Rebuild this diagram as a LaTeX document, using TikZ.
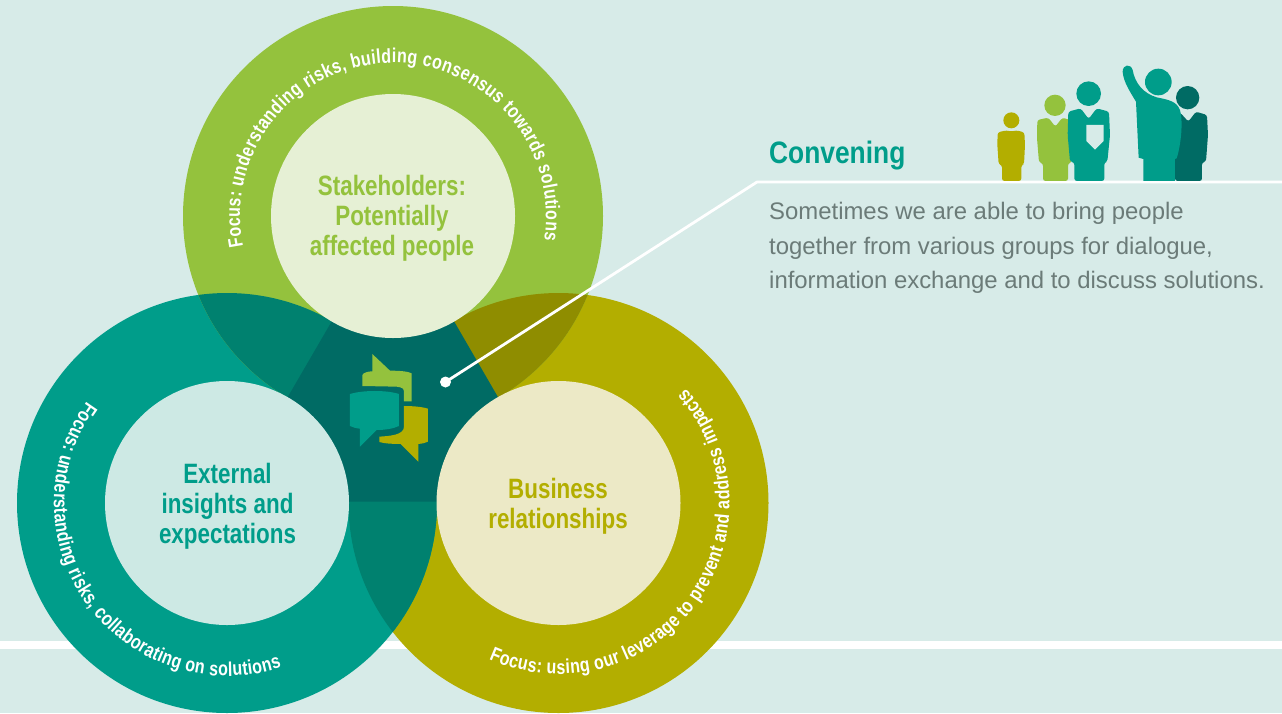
\documentclass[tikz,border=0pt]{standalone}
\usepackage{fontspec}
\setmainfont{Liberation Sans}
\newfontfamily\narrowbold[FakeStretch=0.8]{Liberation Sans Bold}
\newfontfamily\headbold[FakeStretch=0.85]{Liberation Sans Bold}
\usetikzlibrary{decorations.text}
\definecolor{bgc}{HTML}{D7EBE8}
\definecolor{greenc}{HTML}{94C23D}
\definecolor{tealc}{HTML}{009D8A}
\definecolor{olivec}{HTML}{B3AE00}
\definecolor{darkc}{HTML}{006B64}
\definecolor{tealdark}{HTML}{00816F}
\definecolor{olivedark}{HTML}{8F8D00}
\definecolor{greenin}{HTML}{E6F0D5}
\definecolor{tealin}{HTML}{CDE9E4}
\definecolor{olivein}{HTML}{ECE9C6}
\definecolor{bodyc}{HTML}{6B7B78}
\tikzset{
  title/.style={font=\narrowbold\fontsize{28}{30}\selectfont,align=center,inner sep=0pt},
  body/.style={font=\fontsize{23.9}{34.5}\selectfont,text=bodyc,anchor=base west,inner sep=0pt},
  person/.style={rounded corners=2.5pt}
}
\newcommand{\ringtext}[5]{\path[decorate,decoration={text along path,text align={fit to path},text color=white,text={|\narrowbold\fontsize{20}{20}\selectfont|#5}}] (#1) ++(#3:#2) arc[start angle=#3,end angle=#4,radius=#2];}
\begin{document}
\begin{tikzpicture}[x=1pt,y=1pt]
\useasboundingbox (0,0) rectangle (1282,-713);
\fill[bgc] (0,0) rectangle (1282,-713);
\fill[white] (0,-641) rectangle (1282,-649);
\coordinate (G) at (393,-216);
\coordinate (T) at (227,-503);
\coordinate (O) at (558.5,-503);
\fill[olivec] (O) circle[radius=210];
\fill[tealc] (T) circle[radius=210];
\fill[greenc] (G) circle[radius=210];
\begin{scope}
  \clip (T) circle[radius=210];
  \fill[tealdark] (G) circle[radius=210];
  \fill[tealdark] (O) circle[radius=210];
\end{scope}
\begin{scope}
  \clip (G) circle[radius=210];
  \fill[olivedark] (O) circle[radius=210];
\end{scope}
\fill[darkc] (G) -- (227,-501.5) -- (558.5,-501.5) -- cycle;
\fill[greenin] (G) circle[radius=122];
\fill[tealin] (T) circle[radius=122];
\fill[olivein] (O) circle[radius=122];
\node[title,text=greenc] (gt) at (392,-218.5) {Stakeholders:\\Potentially\\affected people};
\node[title,text=tealc] (tt) at (227.5,-506) {External\\insights and\\expectations};
\node[title,text=olivec] (ot) at (558,-506) {Business\\relationships};
\ringtext{G}{153}{191.6}{-9}{Focus: understanding risks, building consensus towards solutions}
\ringtext{T}{173}{144}{288.4}{Focus: understanding risks, collaborating on solutions}
\ringtext{O}{171}{246}{402}{Focus: using our leverage to prevent and address impacts}
% speech bubbles
\begin{scope}[shift={(280,-280)},x=0.3333pt,y=0.3333pt]
  \fill[greenc] (277,-222) -- (330,-272) .. controls (365,-272) and (385,-275) .. (395,-280) -- (395,-364) -- (372,-364) -- (372,-335) .. controls (372,-325) and (365,-322) .. (350,-320) -- (247,-318) -- (247,-285) .. controls (250,-278) and (265,-274) .. (277,-274) -- cycle;
  \fill[tealc] (210,-342) .. controls (250,-330) and (320,-330) .. (357,-342) -- (357,-438) .. controls (340,-446) and (315,-450) .. (290,-450) -- (240,-500) -- (240,-446) .. controls (228,-445) and (218,-442) .. (210,-438) -- cycle;
  \fill[olivec] (372,-378) .. controls (395,-378) and (425,-380) .. (444,-386) -- (444,-485) .. controls (435,-490) and (425,-491) .. (415,-492) -- (415,-545) -- (362,-492) .. controls (335,-492) and (310,-490) .. (298,-486) -- (298,-470) .. controls (330,-468) and (372,-465) .. (372,-440) -- cycle;
\end{scope}
% connector
\node[circle,fill=white,minimum size=11pt,inner sep=0pt] (dot) at (445.5,-382) {};
\coordinate (bend) at (757,-182);
\coordinate (lineend) at (1282,-182);
\draw[white,line width=2.8pt,line join=round] (dot.center) -- (bend) -- (lineend);
% heading
\node[font=\headbold\fontsize{31}{31}\selectfont,text=tealc,anchor=base west,inner sep=0pt] (conv) at (769,-163) {Convening};
\node[body] (l1) at (769,-219) {Sometimes we are able to bring people};
\node[body] (l2) at (769,-254) {together from various groups for dialogue,};
\node[body] (l3) at (769,-288) {information exchange and to discuss solutions.};
% people
\begin{scope}[shift={(980,-55)},x=0.3333pt,y=0.3333pt]
  \fill[olivec] (94,-196) circle[radius=24];
  \fill[olivec,person] (66,-378) -- (66,-330) -- (56,-328) -- (52,-270) -- (53,-232) -- (80,-226) -- (94,-230) -- (108,-226) -- (133,-232) -- (135,-270) -- (132,-328) -- (124,-330) -- (124,-378) -- cycle;
  \fill[greenc] (225,-151) circle[radius=32];
  \fill[greenc,person] (189,-378) -- (189,-325) -- (177,-322) -- (171,-250) -- (172,-195) -- (205,-188) -- (226,-215) -- (247,-188) -- (270,-195) -- (275,-322) -- (264,-325) -- (264,-378) -- cycle;
  \fill[tealc] (326,-116) circle[radius=37];
  \fill[tealc,person] (283,-378) -- (283,-322) -- (270,-320) -- (263,-240) -- (265,-170) -- (302,-160) -- (326,-192) -- (350,-160) -- (387,-170) -- (390,-240) -- (382,-320) -- (373,-322) -- (373,-378) -- cycle;
  \fill[bgc] (319,-210) -- (371,-210) -- (371,-258) -- (345,-284) -- (319,-258) -- cycle;
  \fill[darkc] (623,-128) circle[radius=35];
  \fill[darkc,person] (585,-378) -- (585,-200) -- (600,-172) -- (625,-200) -- (648,-170) -- (681,-180) -- (684,-240) -- (678,-320) -- (666,-322) -- (666,-378) -- cycle;
  \fill[tealc] (535,-81) circle[radius=40];
  \fill[tealc] (490,-378) -- (490,-312) -- (476,-308) -- (468,-140) .. controls (450,-110) and (430,-80) .. (428,-50) .. controls (428,-28) and (452,-25) .. (458,-45) .. controls (465,-85) and (490,-115) .. (530,-127) .. controls (570,-135) and (590,-140) .. (600,-165) .. controls (610,-200) and (603,-270) .. (590,-310) -- (585,-312) -- (585,-378) -- cycle;
\end{scope}
\end{tikzpicture}
\end{document}
